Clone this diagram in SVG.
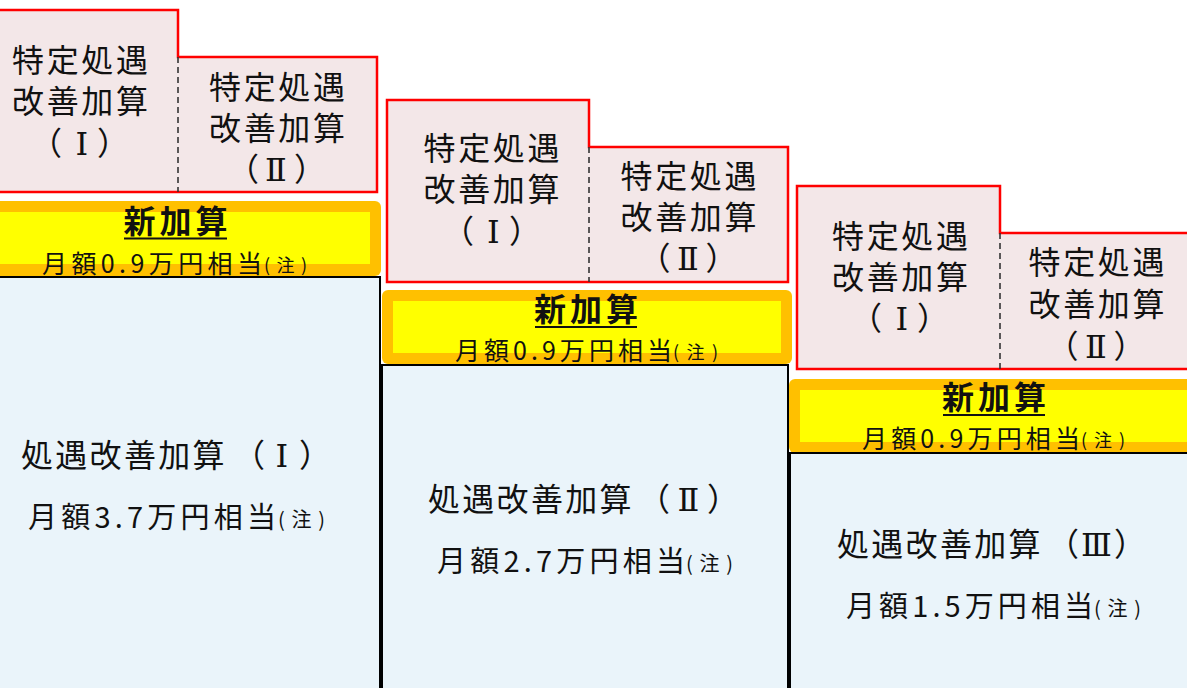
<svg xmlns="http://www.w3.org/2000/svg" width="1187" height="688" viewBox="0 0 1187 688">
<style>
.red{fill:#F3E7E8;stroke:#FF0000;stroke-width:2.5}
.dash{fill:none;stroke:#333;stroke-width:1.6;stroke-dasharray:6 4}
.org{fill:#FFC000}
.yel{fill:#FFFF00}
.blue{fill:#EAF4FA;stroke:#000;stroke-width:2}
.t{font-family:"Noto Sans CJK JP","Noto Sans CJK SC",sans-serif;fill:#111}
.rn{font-family:"DejaVu Serif","Noto Sans CJK JP",serif}
.r{font-size:32px;text-anchor:middle}
.p{font-size:32px}
.h{font-size:32px;font-weight:bold;text-anchor:middle}
.ym{font-size:25px}
.bt{font-size:32px;letter-spacing:2.3px}
.bs{font-size:29px}
.n1{font-size:20px}
.n2{font-size:18px}
.ul{stroke:#111;stroke-width:2}
</style>
<rect width="1187" height="688" fill="#fff"/>

<g id="col1-special">
<path class="red" d="M-22 10H178V57H377V192H-22Z"/>
<path class="dash" d="M178 57V192"/>
<text class="t r" x="80" y="72" textLength="136">特定処遇</text>
<text class="t r" x="80" y="113" textLength="136">改善加算</text>
<text class="t p" x="30" y="155">（<tspan class="rn" x="75.5">Ⅰ</tspan><tspan x="97">）</tspan></text>
<text class="t r" x="277" y="99" textLength="136">特定処遇</text>
<text class="t r" x="277" y="140" textLength="136">改善加算</text>
<text class="t p" x="227" y="181">（<tspan class="rn" x="265">Ⅱ</tspan><tspan x="294">）</tspan></text>
</g>
<g id="col1-new">
<rect class="org" x="-30" y="201" width="411" height="75" rx="6"/>
<rect class="yel" x="-19" y="212" width="389" height="52"/>
<text class="t h" x="175.5" y="233" textLength="104">新加算</text>
<line class="ul" x1="124" y1="238.5" x2="227" y2="238.5"/>
<text class="t ym" x="42" y="273" textLength="220">月額0.9万円相当</text>
<text class="t n2" x="264" y="272" textLength="43">(注)</text>
</g>
<g id="col1-base">
<rect class="blue" x="-30" y="277" width="410" height="430"/>
<text class="t bt" x="21" y="467">処遇改善加算<tspan x="233">（</tspan><tspan class="rn" x="275.5">Ⅰ</tspan><tspan x="299">）</tspan></text>
<text class="t bs" x="28" y="528" textLength="248">月額3.7万円相当</text>
<text class="t n1" x="278" y="527" textLength="47">(注)</text>
</g>

<g id="col2-special">
<path class="red" d="M387 100H589V147H788V282H387Z"/>
<path class="dash" d="M589 147V282"/>
<text class="t r" x="491.5" y="160" textLength="136">特定処遇</text>
<text class="t r" x="491.5" y="201" textLength="136">改善加算</text>
<text class="t p" x="442" y="243">（<tspan class="rn" x="487">Ⅰ</tspan><tspan x="509">）</tspan></text>
<text class="t r" x="688.5" y="188" textLength="136">特定処遇</text>
<text class="t r" x="688.5" y="229" textLength="136">改善加算</text>
<text class="t p" x="638.5" y="270">（<tspan class="rn" x="677">Ⅱ</tspan><tspan x="705.5">）</tspan></text>
</g>
<g id="col2-new">
<rect class="org" x="382" y="290" width="410" height="74" rx="6"/>
<rect class="yel" x="393" y="301" width="388" height="52"/>
<text class="t h" x="586" y="321" textLength="104">新加算</text>
<line class="ul" x1="535" y1="327" x2="637" y2="327"/>
<text class="t ym" x="455" y="360" textLength="217">月額0.9万円相当</text>
<text class="t n2" x="673" y="359" textLength="45">(注)</text>
</g>
<g id="col2-base">
<rect class="blue" x="382" y="365" width="406" height="340"/>
<text class="t bt" x="428" y="511">処遇改善加算<tspan x="638">（</tspan><tspan class="rn" x="677.5">Ⅱ</tspan><tspan x="707">）</tspan></text>
<text class="t bs" x="437" y="572" textLength="248">月額2.7万円相当</text>
<text class="t n1" x="686" y="571" textLength="47">(注)</text>
</g>

<g id="col3-special">
<path class="red" d="M797 186H1000V233H1200V369H797Z"/>
<path class="dash" d="M1000 233V369"/>
<text class="t r" x="900" y="248" textLength="136">特定処遇</text>
<text class="t r" x="900" y="289" textLength="136">改善加算</text>
<text class="t p" x="850" y="330">（<tspan class="rn" x="895.5">Ⅰ</tspan><tspan x="917">）</tspan></text>
<text class="t r" x="1096.5" y="274" textLength="136">特定処遇</text>
<text class="t r" x="1096.5" y="316" textLength="136">改善加算</text>
<text class="t p" x="1046.5" y="358">（<tspan class="rn" x="1085">Ⅱ</tspan><tspan x="1113.5">）</tspan></text>
</g>
<g id="col3-new">
<rect class="org" x="789" y="379" width="420" height="74" rx="6"/>
<rect class="yel" x="800" y="390" width="398" height="52"/>
<text class="t h" x="994" y="409" textLength="104">新加算</text>
<line class="ul" x1="943" y1="415" x2="1045" y2="415"/>
<text class="t ym" x="862" y="448" textLength="218">月額0.9万円相当</text>
<text class="t n2" x="1081" y="447" textLength="44">(注)</text>
</g>
<g id="col3-base">
<rect class="blue" x="790" y="453" width="420" height="250"/>
<text class="t bt" x="837" y="556">処遇改善加算<tspan x="1047">（</tspan><tspan class="rn" x="1081">Ⅲ</tspan><tspan x="1114">）</tspan></text>
<text class="t bs" x="846" y="617" textLength="247">月額1.5万円相当</text>
<text class="t n1" x="1094" y="616" textLength="47">(注)</text>
</g>
<g id="connectors"></g>
</svg>
